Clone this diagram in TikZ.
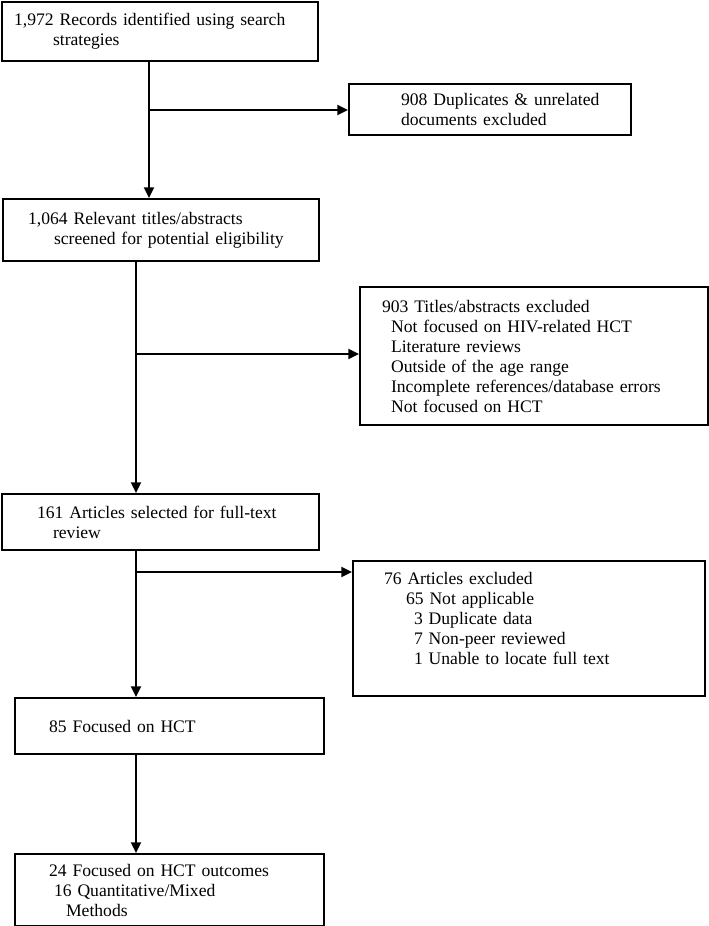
\documentclass[tikz,border=0pt]{standalone}
\usepackage{fontspec}
\setmainfont{Liberation Serif}
\usetikzlibrary{arrows.meta}

% one pixel of the layout
\newlength\px
\setlength\px{0.75pt}
\newcommand{\ind}[1]{\hspace*{#1\px}}

\begin{document}
\begin{tikzpicture}[x=0.75pt, y=-0.75pt,
    box/.style={draw, line width=1.6pt, anchor=north west, align=left,
        inner xsep=0pt, inner ysep=0pt,
        font=\fontsize{13.2}{15}\selectfont},
    arr/.style={line width=1.6pt, -{Triangle[length=8pt, width=7.5pt]}}]

    \useasboundingbox (0,0) rectangle (709,926);

    % Main column
    \node[box, text width=316\px, minimum height=59\px] (rec) at (1,1)
        {\ind{12}1,972 Records identified using search\\\ind{51}strategies};
    \node[box, text width=316\px, minimum height=62\px] (scr) at (2,198)
        {\ind{25}1,064 Relevant titles/abstracts\\\ind{51}screened for potential eligibility};
    \node[box, text width=317\px, minimum height=56\px] (full) at (1,493)
        {\ind{35}161 Articles selected for full-text\\\ind{51}review};
    \node[box, text width=309\px, minimum height=56\px] (foc) at (14,697)
        {\ind{34}85 Focused on HCT};
    \node[box, text width=309\px, minimum height=72\px] (out) at (14,853)
        {\ind{34}24 Focused on HCT outcomes\\\ind{39}16 Quantitative/Mixed\\\ind{51}Methods};

    % Exclusion boxes
    \node[box, text width=282\px, minimum height=51\px] (dup) at (348,83)
        {\ind{52}908 Duplicates \& unrelated\\\ind{52}documents excluded};
    \node[box, text width=348\px, minimum height=138\px] (ttl) at (359,286)
        {\ind{22}903 Titles/abstracts excluded\\
         \ind{31}Not focused on HIV-related HCT\\
         \ind{31}Literature reviews\\
         \ind{31}Outside of the age range\\
         \ind{31}Incomplete references/database errors\\
         \ind{31}Not focused on HCT};
    \node[box, text width=352\px, minimum height=135\px] (art) at (352,560)
        {\ind{31}76 Articles excluded\\
         \ind{53}65 Not applicable\\
         \ind{61}3 Duplicate data\\
         \ind{61}7 Non-peer reviewed\\
         \ind{61}1 Unable to locate full text\\
         \mbox{}};

    % Branch points
    \coordinate (b1) at (149,110);
    \coordinate (b2) at (136,354);
    \coordinate (b3) at (136,572);

    % Connectors
    \draw[arr] (b1 |- rec.south) -- (b1 |- scr.north);
    \draw[arr] (b1) -- (b1 -| dup.west);
    \draw[arr] (b2 |- scr.south) -- (b2 |- full.north);
    \draw[arr] (b2) -- (b2 -| ttl.west);
    \draw[arr] (b3 |- full.south) -- (b3 |- foc.north);
    \draw[arr] (b3) -- (b3 -| art.west);
    \draw[arr] (b3 |- foc.south) -- (b3 |- out.north);

\end{tikzpicture}
\end{document}
